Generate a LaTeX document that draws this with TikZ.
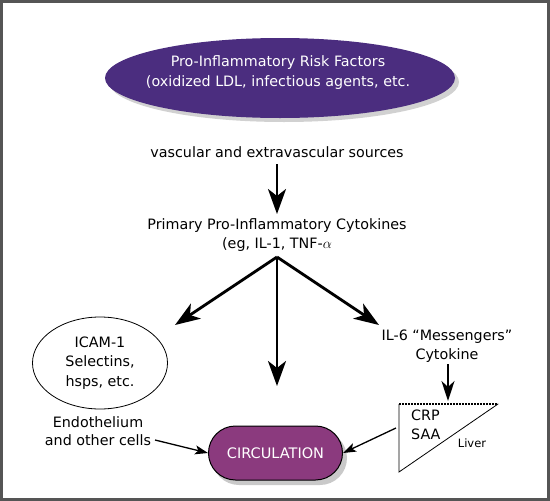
\documentclass[tikz,border=0pt]{standalone}
\usepackage{fontspec}
\setmainfont{DejaVu Sans}
\usetikzlibrary{arrows.meta,shapes.geometric}
\definecolor{riskpurple}{HTML}{4B2D7F}
\definecolor{circpurple}{HTML}{8B3A7E}
\definecolor{framegray}{HTML}{555555}
\tikzset{
  lbl/.style={font=\fontsize{14.3}{19.5}\selectfont, align=center, inner sep=1pt},
  bigarrow/.style={line width=2.8pt, -{Stealth[length=25pt,width=18pt,inset=7pt]}},
  thinarrow/.style={line width=1.3pt, -{Stealth[length=13pt,width=9pt,inset=3pt]}},
}
\begin{document}
\begin{tikzpicture}[x=1pt,y=-1pt]
\useasboundingbox (0,0) rectangle (550,501);
\draw[framegray, line width=3pt] (1.5,1.5) rectangle (548.5,499.5);
% top ellipse
\fill[gray!60, opacity=0.6] (284,82) ellipse [x radius=175, y radius=40];
\node[ellipse, fill=riskpurple, minimum width=350, minimum height=80, inner sep=0] (risk) at (280,78) {};
\node[text=white, font=\fontsize{14.3}{20}\selectfont, align=center, inner sep=0] (risktext) at (278,73)
  {Pro-Inflammatory Risk Factors\\(oxidized LDL, infectious agents, etc.};
\node[lbl] (src) at (277,152) {vascular and extravascular sources};
\node[lbl] (cyto) at (277,235) {Primary Pro-Inflammatory Cytokines\\(eg, IL-1, TNF-$\alpha$};
\coordinate (split) at (277,257);
\draw[bigarrow] (277,164) -- (277,214);
% left ellipse
\node[ellipse, draw, line width=0.8pt, minimum width=135, minimum height=92, inner sep=0,
      lbl] (icam) at (100,363) {ICAM-1\\Selectins,\\hsps, etc.};
\node[lbl, font=\fontsize{14.3}{18.5}\selectfont] (endo) at (98,431) {Endothelium\\and other cells};
% circulation
\fill[gray!60, opacity=0.7, rounded corners=27pt] (212,431) rectangle (347,485);
\node[rounded corners=27pt, fill=circpurple, draw=black, line width=1pt, minimum width=134,
      minimum height=54, text=white, font=\fontsize{14.5}{16}\selectfont] (circ) at (275.5,453) {CIRCULATION};
% IL-6
\node[lbl] (il6) at (447,346) {IL-6 ``Messengers''\\Cytokine};
% triangle
\coordinate (t1) at (399,404);
\coordinate (t2) at (498,404);
\coordinate (t3) at (399,472);
\draw[line width=0.8pt, line join=miter] (t2) -- (t3) -- (t1);
\draw[line width=1.8pt, dash pattern=on 2pt off 1pt] (t1) -- (t2);
\node[lbl, align=left, font=\fontsize{14.3}{18.5}\selectfont, anchor=west] (crp) at (410,425) {CRP\\SAA};
\node[font=\fontsize{11.5}{13}\selectfont, inner sep=1pt] (liver) at (472,443) {Liver};
% arrows
\draw[bigarrow] (split) -- (175,325);
\draw[bigarrow] (split) -- (277,386);
\draw[bigarrow] (split) -- (379,325);
\draw[line width=2.2pt, -{Stealth[length=20pt,width=13pt,inset=6pt]}] (448,364) -- (448,401);
\draw[thinarrow] (155,440) -- (circ.west);
\draw[thinarrow] (396,428) -- (circ.east);
\end{tikzpicture}
\end{document}
